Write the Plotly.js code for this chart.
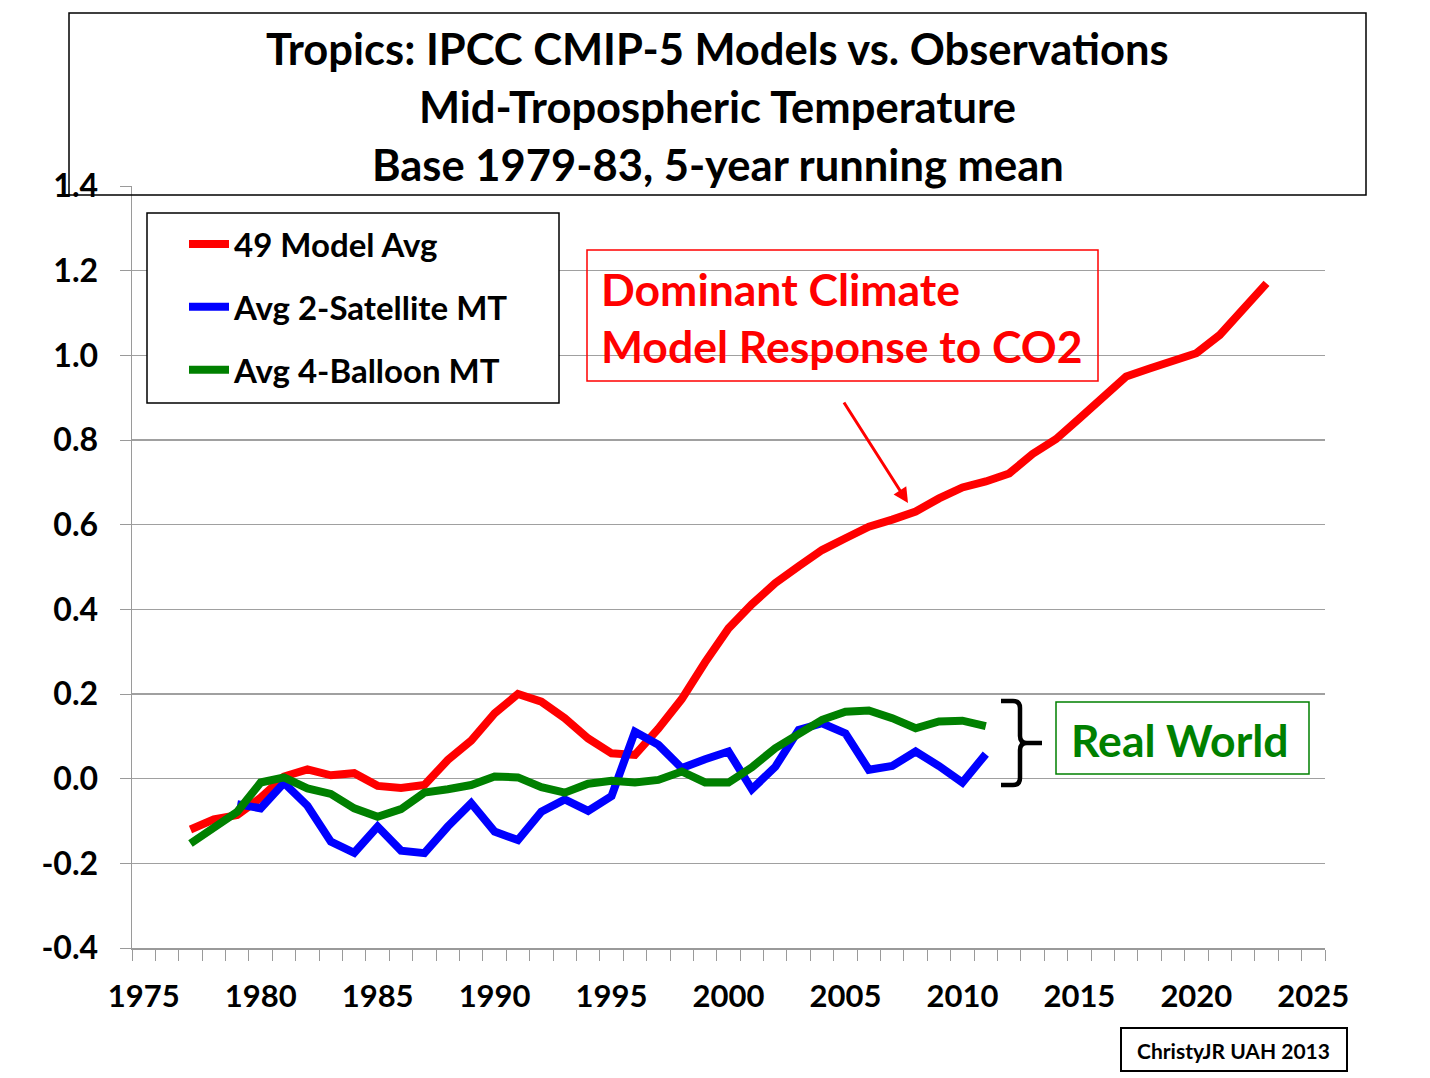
<!DOCTYPE html>
<html>
<head>
<meta charset="utf-8">
<script src="https://cdn.plot.ly/plotly-3.0.1.min.js"></script>
<style>html,body{margin:0;padding:0;background:#fff;}#chart{width:1430px;height:1078px;}</style>
</head>
<body>
<div id="chart"></div>
<script>
// ---- data ----
const modelYears = [1977,1978,1979,1980,1981,1982,1983,1984,1985,1986,1987,1988,1989,1990,1991,1992,1993,1994,1995,1996,1997,1998,1999,2000,2001,2002,2003,2004,2005,2006,2007,2008,2009,2010,2011,2012,2013,2014,2015,2016,2017,2018,2019,2020,2021,2022,2023];
const modelAvg = [-0.120,-0.096,-0.086,-0.045,0.005,0.022,0.008,0.013,-0.017,-0.022,
  -0.015,0.044,0.090,0.154,0.200,0.182,0.143,0.095,0.060,0.056,
  0.118,0.188,0.275,0.355,0.412,0.462,0.502,0.540,0.568,0.595,
  0.612,0.631,0.662,0.688,0.702,0.721,0.767,0.802,0.851,0.902,
  0.950,0.969,0.985,1.005,1.048,1.107,1.170];
const satYears = [1979,1980,1981,1982,1983,1984,1985,1986,1987,1988,1989,1990,1991,1992,1993,1994,1995,1996,1997,1998,1999,2000,2001,2002,2003,2004,2005,2006,2007,2008,2009,2010,2011];
const satelliteAvg = [-0.060,-0.070,-0.010,-0.064,-0.149,-0.175,-0.113,-0.170,-0.176,-0.113,
  -0.058,-0.125,-0.145,-0.078,-0.049,-0.076,-0.041,0.111,0.080,0.025,
  0.046,0.064,-0.025,0.028,0.115,0.131,0.107,0.021,0.030,0.064,
  0.030,-0.009,0.058];
const balloonYears = [1977,1978,1979,1980,1981,1982,1983,1984,1985,1986,1987,1988,1989,1990,1991,1992,1993,1994,1995,1996,1997,1998,1999,2000,2001,2002,2003,2004,2005,2006,2007,2008,2009,2010,2011];
const balloonAvg = [-0.153,-0.117,-0.078,-0.009,0.003,-0.023,-0.036,-0.070,-0.090,-0.072,
  -0.033,-0.025,-0.015,0.005,0.003,-0.020,-0.033,-0.012,-0.005,-0.009,
  -0.003,0.017,-0.009,-0.009,0.027,0.072,0.107,0.139,0.158,0.161,
  0.143,0.119,0.135,0.137,0.124];
const seriesNames = ['49 Model Avg','Avg 2-Satellite MT','Avg 4-Balloon MT'];
const xTickLabels = [1975,1980,1985,1990,1995,2000,2005,2010,2015,2020,2025];
const yTickVals = [-0.4,-0.2,0,0.2,0.4,0.6,0.8,1.0,1.2,1.4];
const titleLines = ['Tropics: IPCC CMIP-5 Models vs. Observations','Mid-Tropospheric Temperature','Base 1979-83, 5-year running mean'];
const calloutLines = ['Dominant Climate','Model Response to CO2'];
const realWorldText = 'Real World';
const creditText = 'ChristyJR UAH 2013';

// ---- layout helpers (pixel -> paper) ----
const L = 132, R = 1325, T = 186, B = 948;
const PX = x => (x - L) / (R - L);
const PY = y => (B - y) / (B - T);
const FONT = 'Lato, "Open Sans", sans-serif';

const traces = [
  {x: modelYears, y: modelAvg, name: seriesNames[0], legendgroup: 'a', line: {color: '#FF0000', width: 8}},
  {x: satYears, y: satelliteAvg, name: seriesNames[1], legendgroup: 'b', line: {color: '#0000FF', width: 8}},
  {x: balloonYears, y: balloonAvg, name: seriesNames[2], legendgroup: 'c', line: {color: '#008000', width: 8}}
].map(t => Object.assign({type: 'scatter', mode: 'lines', hoverinfo: 'skip'}, t));

const annotations = [];
titleLines.forEach((t, i) => annotations.push({
  xref: 'paper', yref: 'paper', x: PX(717.5), y: PY(48 + i * 58), xanchor: 'center', yanchor: 'middle',
  text: t, showarrow: false, font: {family: FONT, size: 43.5, weight: 'bold', color: '#000'}
}));
calloutLines.forEach((t, i) => annotations.push({
  xref: 'paper', yref: 'paper', x: PX(599), y: PY(288 + i * 57), xanchor: 'left', yanchor: 'middle',
  text: t, showarrow: false, font: {family: FONT, size: 44.5, weight: 'bold', color: '#FF0000'}
}));
annotations.push({
  xref: 'paper', yref: 'paper', x: PX(908), y: PY(503), ax: 843 - 908, ay: 401 - 503,
  text: '', showarrow: true, arrowhead: 2, arrowsize: 1, arrowwidth: 3, arrowcolor: '#FF0000'
});
annotations.push({
  xref: 'paper', yref: 'paper', x: PX(1180), y: PY(739), xanchor: 'center', yanchor: 'middle',
  text: realWorldText, showarrow: false, font: {family: FONT, size: 44.5, weight: 'bold', color: '#008000'}
});
annotations.push({
  xref: 'paper', yref: 'paper', x: PX(1233), y: PY(1050), xanchor: 'center', yanchor: 'middle',
  text: creditText, showarrow: false, font: {family: FONT, size: 21, weight: 'bold', color: '#000'}
});

const rect = (x0, y0, x1, y1, color, w, fill) => ({
  type: 'rect', xref: 'paper', yref: 'paper', x0: PX(x0), x1: PX(x1), y0: PY(y1), y1: PY(y0),
  line: {color: color, width: w}, fillcolor: fill || 'rgba(0,0,0,0)', layer: 'above'
});
const p = (x, y) => PX(x).toFixed(5) + ',' + PY(y).toFixed(5);
const bracePath = 'M' + p(1001, 701) + ' L' + p(1013, 701) + ' Q' + p(1020, 701) + ' ' + p(1020, 708) +
  ' L' + p(1020, 736) + ' Q' + p(1020, 743) + ' ' + p(1027, 743) + ' L' + p(1042, 743) +
  ' M' + p(1027, 743) + ' Q' + p(1020, 743) + ' ' + p(1020, 750) + ' L' + p(1020, 778) +
  ' Q' + p(1020, 785) + ' ' + p(1013, 785) + ' L' + p(1001, 785);

const shapes = [
  rect(69, 13, 1366, 195, '#000', 1.5),
  rect(147, 213, 559, 403, '#000', 1.5, '#ffffff'),
  rect(587, 250, 1098, 381, '#FF0000', 1.5),
  rect(1056, 702, 1309, 774, '#008000', 1.5),
  rect(1121, 1028, 1347, 1071, '#000', 2),
  {type: 'path', xref: 'paper', yref: 'paper', path: bracePath, line: {color: '#000', width: 4.5}, layer: 'above'}
];

const layout = {
  width: 1430, height: 1078,
  margin: {l: L, r: 1430 - R, t: T, b: 1078 - B, pad: 0},
  paper_bgcolor: '#fff', plot_bgcolor: '#fff',
  showlegend: true,
  legend: {
    x: PX(184), y: PY(216), xanchor: 'left', yanchor: 'top',
    bgcolor: 'rgba(0,0,0,0)', borderwidth: 0,
    font: {family: FONT, size: 33, weight: 'bold', color: '#000'},
    traceorder: 'grouped', tracegroupgap: 17, itemwidth: 40
  },
  xaxis: {
    range: [1974.5, 2025.5], tickvals: xTickLabels, ticktext: xTickLabels.map(String),
    ticks: '', showgrid: false, zeroline: false,
    showline: true, linecolor: '#9a9a9a', linewidth: 1.5,
    minor: {ticks: 'outside', tick0: 1974.5, dtick: 1, ticklen: 11, tickcolor: '#9a9a9a', tickwidth: 1, showgrid: false},
    tickfont: {family: FONT, size: 31, weight: 'bold', color: '#000'},
    ticklabelstandoff: 20
  },
  yaxis: {
    range: [-0.4, 1.4], tickvals: yTickVals, ticktext: yTickVals.map(v => v.toFixed(1)),
    ticks: 'outside', ticklen: 11, tickcolor: '#9a9a9a', tickwidth: 1,
    showgrid: true, gridcolor: '#a0a0a0', gridwidth: 1.5, zeroline: false,
    showline: true, linecolor: '#9a9a9a', linewidth: 1.5,
    tickfont: {family: FONT, size: 32, weight: 'bold', color: '#000'},
    ticklabelstandoff: 15
  },
  annotations: annotations,
  shapes: shapes
};

Plotly.newPlot('chart', traces, layout, {displayModeBar: false, staticPlot: true});
</script>
</body>
</html>
